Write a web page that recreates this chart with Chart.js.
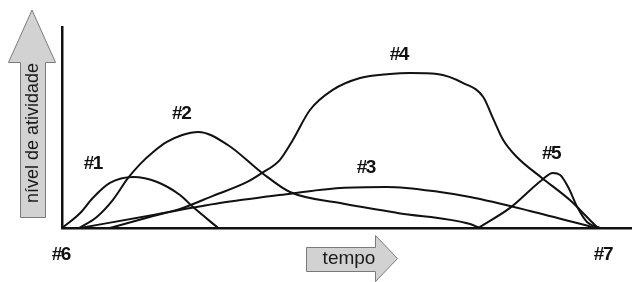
<!DOCTYPE html>
<html>
<head>
<meta charset="utf-8">
<script src="https://cdn.jsdelivr.net/npm/chart.js@4.4.1/dist/chart.umd.min.js"></script>
<style>
  html, body { margin: 0; padding: 0; background: #ffffff; }
  #wrap { width: 632px; height: 282px; position: relative; }
</style>
</head>
<body>
<div id="wrap"><canvas id="c" width="632" height="282"></canvas></div>
<script>
// ---- Data (time 0..100, activity 0..100) ----
const curve1 = [[0,0],[3.2,7.5],[5.4,14.9],[8.4,22.4],[12.5,25.4],[16.7,22.9],[20.7,16.4],[23.0,10.4],[27.4,0]];
const curve2 = [[3.0,0],[6.1,5.5],[8.9,13.9],[11.6,24.9],[13.7,31.8],[16.0,37.8],[18.4,42.8],[21.1,46.3],[23.9,47.8],[29.1,41.3],[35.1,27.4],[40.0,17.9],[48.8,12.4],[58.8,7.5],[71.6,2.0],[73.3,0]];
const curve3 = [[3.2,0],[16.0,6.5],[27.7,12.4],[38.2,16.4],[48.8,19.9],[57.0,20.4],[66.3,17.9],[71.6,15.4],[82.1,8.5],[93.7,0]];
const curve4 = [[8.4,0],[16.0,6.0],[20.7,9.5],[26.5,16.0],[32.5,22.9],[35.1,27.4],[38.2,33.8],[40.5,43.8],[43.5,58.7],[47.5,68.7],[52.3,74.6],[57.5,76.6],[61.1,77.1],[65.8,76.6],[70.4,72.1],[73.9,65.2],[75.6,54.7],[77.4,43.8],[79.8,35.3],[84.2,24.9],[89.1,13.9],[92.6,4.0],[94.0,0]];
const curve5 = [[73.0,0],[78.6,10.0],[84.2,23.9],[86.1,27.4],[87.4,26.4],[88.8,20.4],[90.4,10.4],[92.1,3.0],[94.4,0]];

const curveLabels = ['#1','#2','#3','#4','#5'];
const curveLabelAt = [[5.4,31.8],[20.9,56.7],[53.3,29.9],[59.1,86.1],[85.8,36.8]];
const endLabels = ['#6','#7'];
const endLabelAt = [[-0.2,-13.4],[94.9,-13.4]];
const yAxisTitle = 'nível de atividade';
const xAxisTitle = 'tempo';

const curves = [curve1, curve2, curve3, curve4, curve5];

const datasets = curves.map((c, i) => ({
  label: curveLabels[i],
  data: c.map(p => ({x: p[0], y: p[1]})),
  borderColor: '#111111',
  borderWidth: 2,
  pointRadius: 0,
  fill: false,
  cubicInterpolationMode: 'monotone',
  clip: false
}));

const decorPlugin = {
  id: 'decor',
  afterDraw(chart) {
    const ctx = chart.ctx;
    const xs = chart.scales.x, ys = chart.scales.y;
    ctx.save();
    // curve and end labels
    ctx.fillStyle = '#111111';
    ctx.font = 'bold 19px "Liberation Sans", Arial, sans-serif';
    try { ctx.letterSpacing = '-1.5px'; } catch(e) {}
    ctx.textAlign = 'center';
    ctx.textBaseline = 'middle';
    const all = curveLabels.map((t,i)=>[t, curveLabelAt[i]]).concat(endLabels.map((t,i)=>[t, endLabelAt[i]]));
    all.forEach(([t, p]) => {
      ctx.fillText(t, xs.getPixelForValue(p[0]), ys.getPixelForValue(p[1]));
    });
    try { ctx.letterSpacing = '0px'; } catch(e) {}

    // vertical arrow (y axis title)
    ctx.fillStyle = '#d2d2d2';
    ctx.strokeStyle = '#7a7a7a';
    ctx.lineWidth = 1;
    ctx.beginPath();
    ctx.moveTo(32, 10);
    ctx.lineTo(55.5, 62.5);
    ctx.lineTo(45.5, 62.5);
    ctx.lineTo(45.5, 217.5);
    ctx.lineTo(20.5, 217.5);
    ctx.lineTo(20.5, 62.5);
    ctx.lineTo(8.5, 62.5);
    ctx.closePath();
    ctx.fill();
    ctx.stroke();
    ctx.save();
    ctx.translate(33, 133);
    ctx.rotate(-Math.PI / 2);
    ctx.fillStyle = '#1a1a1a';
    ctx.font = '18px "Liberation Sans", Arial, sans-serif';
    ctx.textAlign = 'center';
    ctx.textBaseline = 'middle';
    ctx.fillText(yAxisTitle, 0, 0);
    ctx.restore();

    // horizontal arrow (x axis title)
    ctx.fillStyle = '#d2d2d2';
    ctx.strokeStyle = '#7a7a7a';
    ctx.beginPath();
    ctx.moveTo(306.5, 247.5);
    ctx.lineTo(375.5, 247.5);
    ctx.lineTo(375.5, 235.5);
    ctx.lineTo(397.5, 258.5);
    ctx.lineTo(375.5, 281.5);
    ctx.lineTo(375.5, 271.5);
    ctx.lineTo(306.5, 271.5);
    ctx.closePath();
    ctx.fill();
    ctx.stroke();
    ctx.fillStyle = '#1a1a1a';
    ctx.font = '19px "Liberation Sans", Arial, sans-serif';
    ctx.textAlign = 'center';
    ctx.textBaseline = 'middle';
    ctx.fillText(xAxisTitle, 349, 259);
    ctx.restore();
  }
};

new Chart(document.getElementById('c'), {
  type: 'line',
  data: { datasets },
  options: {
    responsive: false,
    animation: false,
    events: [],
    layout: { padding: { left: 62, top: 27, right: 0, bottom: 54 } },
    plugins: { legend: { display: false }, tooltip: { enabled: false } },
    scales: {
      x: {
        type: 'linear', min: 0, max: 100,
        ticks: { display: false },
        grid: { display: false, drawTicks: false },
        border: { display: true, color: '#111111', width: 2.5 }
      },
      y: {
        type: 'linear', min: 0, max: 100,
        ticks: { display: false },
        grid: { display: false, drawTicks: false },
        border: { display: true, color: '#111111', width: 2.5 }
      }
    }
  },
  plugins: [decorPlugin]
});
</script>
</body>
</html>
